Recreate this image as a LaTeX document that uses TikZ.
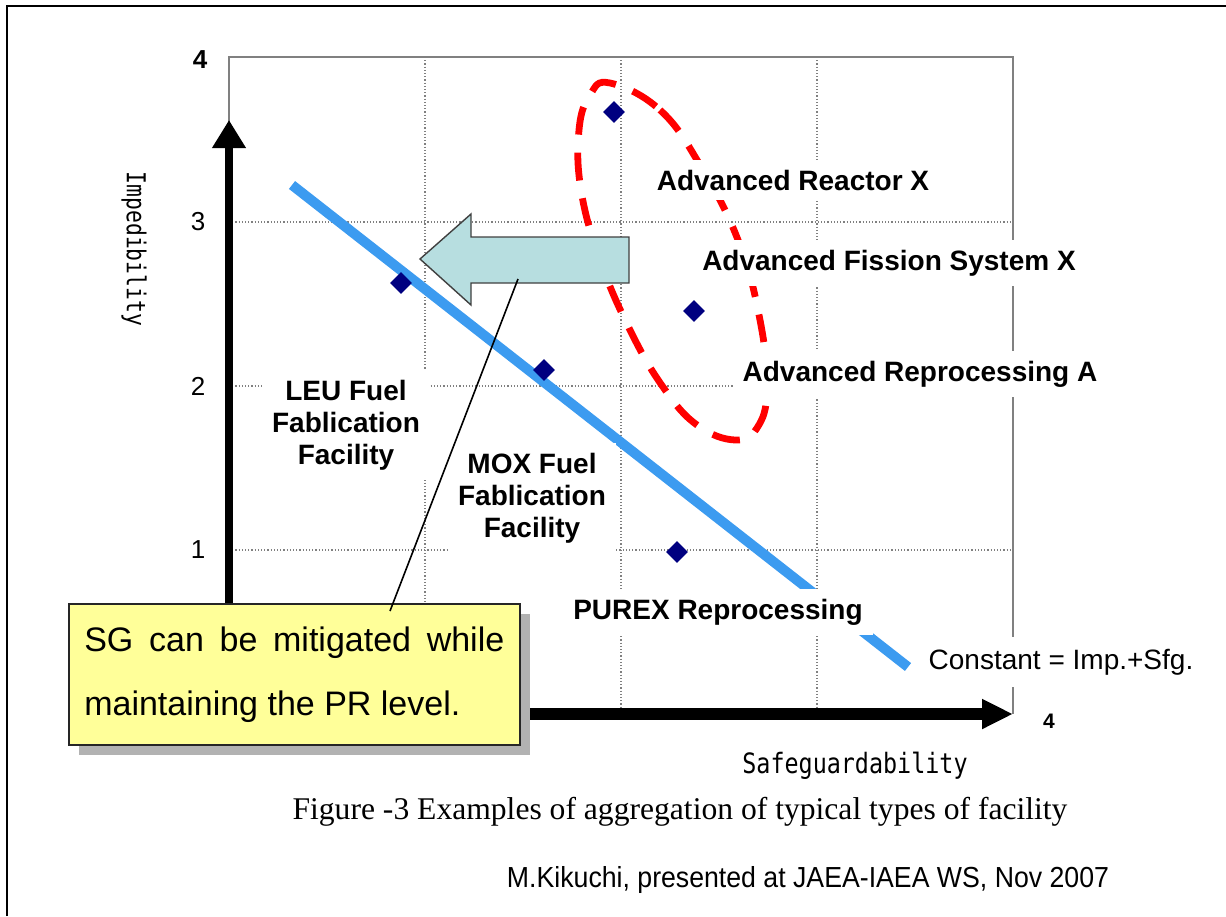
\documentclass[tikz,border=0pt]{standalone}
\usepackage{fontspec}
\setmainfont{Liberation Sans}
\newfontfamily\capfont{Liberation Serif}
\newfontfamily\axisfont{DejaVu Sans Mono}
\usetikzlibrary{arrows.meta,shapes.geometric,shadows}
\definecolor{lineblue}{RGB}{60,155,240}
\definecolor{pointnavy}{RGB}{0,0,128}
\definecolor{arrowfill}{RGB}{183,222,224}
\definecolor{noteyellow}{RGB}{255,255,153}

\begin{document}
\begin{tikzpicture}[x=0.5pt,y=-0.5pt,
	facility/.style={fill=white,inner sep=5pt,align=center,font=\fontsize{14}{16}\selectfont\bfseries},
	gridline/.style={gray,densely dotted,line width=0.6pt},
	point/.style={diamond,fill=pointnavy,inner sep=0pt,minimum size=11pt}]
		
		\useasboundingbox (0,0) rectangle (1226,916);
		
		% Outer frame
		\draw[line width=1pt] (7,916) -- (7,6) -- (1226,6);
		
		% Grid
		\foreach \x in {425,621,817}
		{
			\draw[gridline] (\x,57) -- (\x,714);
		}
		\foreach \y in {222,386,550}
		{
			\draw[gridline] (229,\y) -- (1013,\y);
		}
		
		% Plot border
		\draw[gray,line width=0.8pt] (229,130) -- (229,57) -- (1013,57) -- (1013,714);
		
		% Red dashed group
		\draw[red,line width=3.4pt,dash pattern=on 14pt off 9pt] plot[smooth cycle,tension=0.7] coordinates {(610,83) (660,110) (700,165) (738,240) (760,320) (767,390) (757,428) (735,440) (697,425) (663,387) (630,330) (600,260) (581,190) (579,130) (590,95)};
		
		% Constant line
		\draw[lineblue,line width=5pt] (292,185) -- (908,667);
		
		% Facilities
		\foreach \px/\py [count=\k] in {614/112,401/283,544/370,694/311,677/552}
		{
			\node[point] (p\k) at (\px,\py) {};
		}
		
		% Big arrow
		\draw[fill=arrowfill,draw=black!75,line width=0.7pt] (420,259) -- (471,214) -- (471,237) -- (629,237) -- (629,283) -- (471,283) -- (471,305) -- cycle;
		\coordinate (pin) at (518,279);
		
		% Labels
		\node[facility] (reactor) at (793,180) {Advanced Reactor X};
		\node[facility] (fission) at (889,263) {Advanced Fission System X};
		\node[facility] (reproc) at (920,374) {Advanced Reprocessing A};
		\node[facility] (leu) at (346,425) {LEU Fuel\\Fablication\\Facility};
		\node[facility] (mox) at (532,498) {MOX Fuel\\Fablication\\Facility};
		\node[facility] (purex) at (718,612) {PUREX Reprocessing};
		\node[fill=white,inner sep=6pt,font=\fontsize{14}{16}\selectfont] (const) at (1061,662) {Constant = Imp.+Sfg.};
		
		% Axes
		\coordinate (origin) at (229,714);
		\coordinate (ytip) at (229,120);
		\coordinate (xtip) at (1013,714);
		\draw[line width=4pt,-{Triangle[length=14pt,width=16pt]}] (origin) -- (ytip);
		\draw[line width=6pt,-{Triangle[length=15.5pt,width=14pt]}] (origin) -- (xtip);
		
		% Tick labels
		\node[font=\fontsize{13}{15}\selectfont\bfseries] (ytop) at (200,60) {4};
		\foreach \v/\py in {3/222,2/386,1/550}
		{
			\node[font=\fontsize{13}{15}\selectfont] (ytick\v) at (198,\py) {\v};
		}
		\node[font=\fontsize{10.5}{12}\selectfont\bfseries] (xtop) at (1049,721) {4};
		
		% Axis titles
		\node[font=\axisfont\fontsize{14}{16}\selectfont] (xtitle) at (855,766) {\scalebox{0.835}[1]{Safeguardability}};
		\node[font=\axisfont\fontsize{13}{15}\selectfont,rotate=-90] (ytitle) at (134,249) {\scalebox{0.82}[1]{Impedibility}};
		
		% Callout
		\node[draw=black!85,line width=0.8pt,fill=noteyellow,minimum width=225.5pt,minimum height=70.5pt,anchor=north west,align=left,font=\fontsize{17}{32}\selectfont,drop shadow={shadow xshift=5pt,shadow yshift=-5pt,fill=black!30,opacity=1}] (note) at (68,603) {\makebox[210pt][s]{SG can be mitigated while}\\maintaining the PR level.};
		\coordinate (tail) at (390,611);
		\draw[line width=0.8pt] (tail) -- (pin);
		
		% Caption and credit
		\node[font=\capfont\fontsize{15.8}{18}\selectfont] (caption) at (680,812) {Figure -3 Examples of aggregation of typical types of facility};
		\node[font=\fontsize{14.5}{17}\selectfont,xscale=0.92] (credit) at (808,880) {M.Kikuchi, presented at JAEA-IAEA WS, Nov 2007};
		
	\end{tikzpicture}
\end{document}
